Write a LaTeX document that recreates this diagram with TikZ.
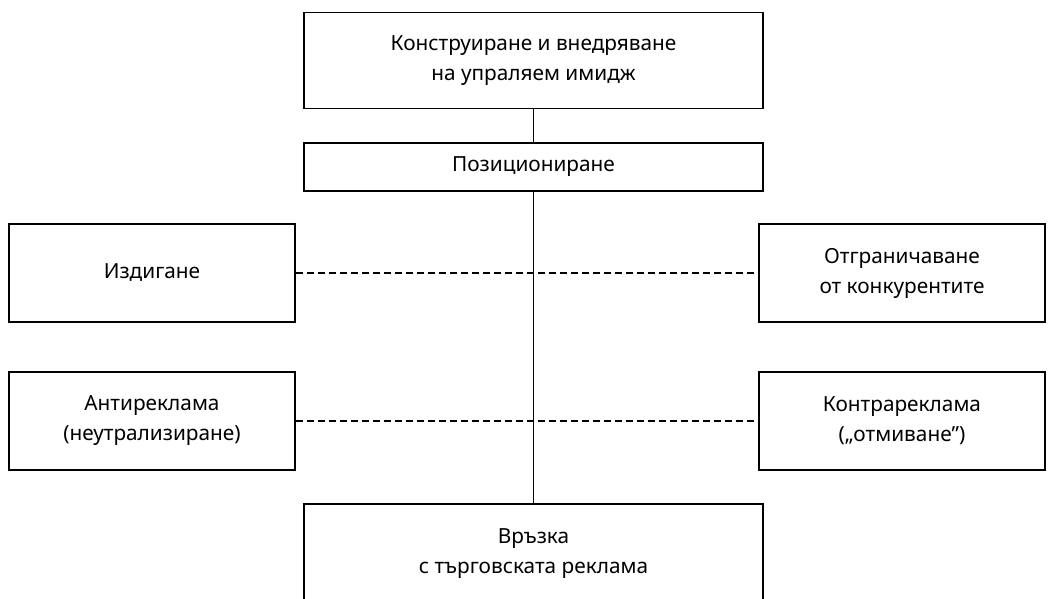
\documentclass[tikz,border=0pt]{standalone}
\usepackage{fontspec}
\setmainfont[Language=Bulgarian]{Noto Sans}
\begin{document}
\begin{tikzpicture}[x=0.5pt,y=-0.5pt,
  box/.style={draw,line width=0.9pt,align=center,inner sep=0pt,
    font=\fontsize{10.4pt}{15pt}\selectfont},
  wide/.style={box,minimum width=229.5pt},
  side/.style={box,minimum width=143pt,minimum height=49pt},
  conn/.style={line width=0.9pt},
  dconn/.style={line width=0.9pt,dash pattern=on 3.5pt off 2pt}]
\useasboundingbox (0,0) rectangle (1054,599);
\node[wide,minimum height=48pt] (top) at (533.5,60.5) {Конструиране и внедряване\\на упраляем имидж};
\node[wide,minimum height=24pt] (pos) at (533.5,167) {Позициониране};
\node[side] (izd) at (152,273) {Издигане};
\node[side] (anti) at (152,421) {Антиреклама\\(неутрализиране)};
\node[side] (otg) at (902,273) {Отграничаване\\от конкурентите};
\node[side] (kontra) at (902,421) {Контрареклама\\(„отмиване”)};
\node[wide,minimum height=50pt] (vr) at (533.5,554) {Връзка\\с търговската реклама};
\draw[conn] (top.south) -- (pos.north);
\draw[conn] (pos.south) -- (vr.north);
\draw[dconn] (izd.east) -- (otg.west);
\draw[dconn] (anti.east) -- (kontra.west);
\end{tikzpicture}
\end{document}
